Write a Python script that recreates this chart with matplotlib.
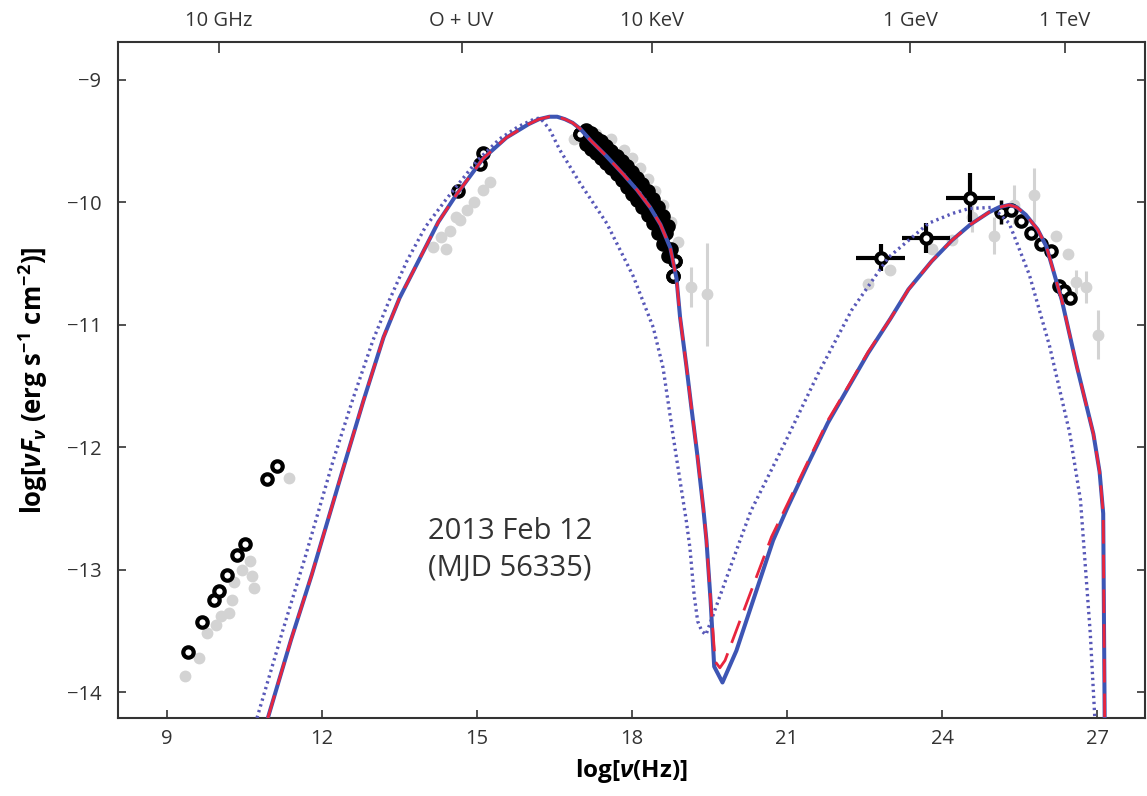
import matplotlib
matplotlib.use('Agg')
import matplotlib.pyplot as plt

plt.rcParams['font.family'] = ['Open Sans', 'DejaVu Sans']
plt.rcParams['mathtext.fontset'] = 'custom'
plt.rcParams['mathtext.rm'] = 'Open Sans:bold'
plt.rcParams['mathtext.it'] = 'Open Sans:italic:bold'
plt.rcParams['mathtext.bf'] = 'Open Sans:bold'

# model curves (log nu, log nuFnu)
solid_x = [10.95, 11.4, 11.8, 12.41, 12.8, 13.19, 13.5, 13.9, 14.25, 14.61, 15.12, 15.57, 16.0,
           16.2, 16.4, 16.55, 16.7, 16.85, 17.0, 17.19, 17.5, 17.83, 18.1, 18.35, 18.55, 18.74,
           18.86, 18.93, 19.05, 19.15, 19.26, 19.38, 19.44, 19.52, 19.59, 19.75, 20.02, 20.73,
           21.0, 21.4, 21.79, 22.2, 22.57, 23.0, 23.35, 23.8, 24.19, 24.55, 24.91, 25.1, 25.3,
           25.45, 25.62, 25.85, 26.02, 26.32, 26.61, 26.93, 27.05, 27.12, 27.15]
solid_y = [-14.21, -13.57, -13.04, -12.17, -11.62, -11.1, -10.78, -10.45, -10.16, -9.93, -9.64,
           -9.47, -9.36, -9.32, -9.3, -9.3, -9.32, -9.35, -9.4, -9.49, -9.62, -9.77, -9.9,
           -10.04, -10.18, -10.37, -10.62, -10.94, -11.33, -11.68, -12.05, -12.5, -12.76,
           -13.25, -13.79, -13.92, -13.66, -12.76, -12.5, -12.14, -11.8, -11.5, -11.23, -10.95,
           -10.71, -10.48, -10.31, -10.18, -10.08, -10.04, -10.02, -10.04, -10.1, -10.22,
           -10.36, -10.8, -11.34, -11.89, -12.2, -12.54, -14.3]

dash_x = [10.95, 11.4, 11.8, 12.41, 12.8, 13.19, 13.5, 13.9, 14.25, 14.61, 15.12, 15.57, 16.0,
          16.2, 16.4, 16.55, 16.7, 16.85, 17.0, 17.19, 17.5, 17.83, 18.1, 18.35, 18.55, 18.74,
          18.86, 18.93, 19.05, 19.15, 19.26, 19.38, 19.44, 19.52, 19.61, 19.7, 19.8, 20.7,
          21.0, 21.4, 21.79, 22.2, 22.57, 23.0, 23.35, 23.8, 24.19, 24.55, 24.91, 25.1, 25.3,
          25.45, 25.62, 25.85, 26.02, 26.32, 26.61, 26.93, 27.05, 27.12, 27.15]
dash_y = [-14.21, -13.57, -13.04, -12.17, -11.62, -11.1, -10.78, -10.45, -10.16, -9.93, -9.64,
          -9.47, -9.36, -9.32, -9.3, -9.3, -9.32, -9.35, -9.4, -9.49, -9.62, -9.77, -9.9,
          -10.04, -10.18, -10.37, -10.62, -10.94, -11.33, -11.68, -12.05, -12.5, -12.76,
          -13.25, -13.75, -13.8, -13.74, -12.73, -12.47, -12.12, -11.78, -11.49, -11.22,
          -10.95, -10.71, -10.48, -10.31, -10.18, -10.08, -10.04, -10.02, -10.04, -10.1,
          -10.22, -10.36, -10.8, -11.34, -11.89, -12.2, -12.54, -14.3]

dot_x = [10.74, 11.25, 11.67, 12.22, 12.6, 12.99, 13.3, 13.64, 14.0, 14.41, 15.0, 15.44, 15.8,
         16.1, 16.22, 16.4, 16.6, 16.99, 17.51, 18.02, 18.41, 18.6, 18.8, 18.95, 19.05, 19.12,
         19.2, 19.27, 19.35, 19.43, 19.5, 20.09, 20.3, 20.95, 21.6, 22.25, 22.96, 23.74, 24.2,
         24.52, 24.98, 25.3, 25.69, 26.08, 26.47, 26.68, 26.87, 26.96]
dot_y = [-14.21, -13.48, -12.9, -12.1, -11.6, -11.12, -10.8, -10.48, -10.2, -9.97, -9.66,
         -9.48, -9.38, -9.32, -9.31, -9.4, -9.57, -9.84, -10.17, -10.6, -11.02, -11.35,
         -11.92, -12.33, -12.6, -12.82, -13.2, -13.42, -13.5, -13.53, -13.45, -12.76, -12.52,
         -11.97, -11.4, -10.88, -10.45, -10.17, -10.09, -10.05, -10.04, -10.17, -10.59,
         -11.17, -11.88, -12.43, -13.52, -14.23]

# 2013 Feb 12 data (black open circles)
radio_x = [9.41, 9.67, 9.9, 10.01, 10.16, 10.36, 10.51, 10.93, 11.13]
radio_y = [-13.67, -13.43, -13.25, -13.17, -13.04, -12.88, -12.79, -12.26, -12.15]
opt_x = [14.64, 15.06, 15.11]
opt_y = [-9.91, -9.69, -9.6]
xray_x = [17.1, 17.2, 17.3, 17.4, 17.5, 17.6, 17.7, 17.8, 17.9, 18.0, 18.1, 18.2, 18.3,
          18.4, 18.5, 18.6, 18.7, 18.65, 18.75,
          18.7, 18.6, 18.5, 18.4, 18.3, 18.2, 18.1, 18.0, 17.9, 17.8, 17.7, 17.6, 17.5,
          17.4, 17.3, 17.2, 17.1, 17.0, 18.83, 18.8]
xray_y = [-9.52, -9.56, -9.6, -9.64, -9.68, -9.72, -9.77, -9.82, -9.87, -9.93, -9.98,
          -10.04, -10.1, -10.17, -10.25, -10.34, -10.44, -10.25, -10.38,
          -10.19, -10.11, -10.04, -9.97, -9.91, -9.85, -9.8, -9.75, -9.7, -9.66,
          -9.62, -9.58, -9.54, -9.5, -9.47, -9.43, -9.41, -9.44, -10.48, -10.6]

gam_x = [22.81, 23.69, 24.55]
gam_y = [-10.45, -10.29, -9.96]
gam_xerr = [0.48, 0.47, 0.47]
gam_yerr = [0.11, 0.12, 0.2]
vhe_x = [25.14, 25.33, 25.53, 25.72, 25.92, 26.11, 26.27, 26.37, 26.47]
vhe_y = [-10.08, -10.06, -10.15, -10.25, -10.34, -10.4, -10.68, -10.72, -10.78]
vhe_yerr = [0.1, 0.03, 0.03, 0.03, 0.03, 0.03, 0.05, 0.05, 0.05]

# other epochs (grey)
grey_x = [9.35, 9.62, 9.78, 9.95, 10.05, 10.2, 10.25, 10.3, 10.45, 10.6, 10.65, 10.68, 11.35,
          14.15, 14.3, 14.48, 14.6, 14.67, 14.81, 14.95, 15.12, 15.25, 14.4,
          16.88, 17.3, 17.6, 17.85, 18.0, 18.15, 18.3, 18.45, 18.6, 18.75, 18.88,
          22.57, 23.0, 23.8, 24.2, 26.2, 26.44]
grey_y = [-13.87, -13.72, -13.52, -13.45, -13.38, -13.35, -13.25, -13.1, -13.0, -12.93, -13.05,
          -13.15, -12.25,
          -10.36, -10.28, -10.23, -10.12, -10.14, -10.06, -10.0, -9.9, -9.83, -10.38,
          -9.48, -9.44, -9.48, -9.57, -9.64, -9.72, -9.81, -9.91, -10.02, -10.16, -10.32,
          -10.67, -10.55, -10.38, -10.31, -10.27, -10.42]
grey_err_x = [19.15, 19.45, 24.58, 25.0, 25.39, 25.78, 26.6, 26.79, 27.02]
grey_err_y = [-10.69, -10.75, -10.12, -10.27, -10.02, -9.94, -10.65, -10.69, -11.08]
grey_err_yerr = [0.16, 0.42, 0.12, 0.15, 0.16, 0.22, 0.1, 0.13, 0.2]

top_ticks = [10, 14.7, 18.38, 23.38, 26.38]
top_labels = ['10 GHz', 'O + UV', '10 KeV', '1 GeV', '1 TeV']

fig = plt.figure(figsize=(11.47, 7.96), dpi=100)
ax = fig.add_axes([0.1029, 0.098, 0.8954, 0.8492])

grey = '#d3d3d3'
ax.plot(grey_x, grey_y, 'o', ms=8.5, color=grey, mec='none', zorder=1)
ax.errorbar(grey_err_x, grey_err_y, yerr=grey_err_yerr, fmt='o', ms=8.5, color=grey,
            mec='none', elinewidth=2.2, capsize=0, zorder=1)

ring = dict(ms=7.5, mfc='white', mec='black', mew=3.0, ls='none', marker='o', zorder=3)
ax.plot(radio_x, radio_y, **ring)
ax.plot(opt_x, opt_y, **ring)
# x-ray points overlap into a solid band; only the last ones show their centres
ax.plot(xray_x, xray_y, **ring)
ax.plot(xray_x[:-3], xray_y[:-3], 'o', ms=9, color='black', mec='none', zorder=3)
ax.plot(xray_x[-3:], xray_y[-3:], **ring)
ax.errorbar(vhe_x, vhe_y, yerr=vhe_yerr, ecolor='black', elinewidth=2.5, capsize=0,
            fmt='none', zorder=3)
ax.plot(vhe_x, vhe_y, **ring)
ax.errorbar(gam_x, gam_y, xerr=gam_xerr, yerr=gam_yerr, ecolor='black', elinewidth=3.0,
            capsize=0, fmt='none', zorder=3)
ax.plot(gam_x, gam_y, **ring)

ax.plot(dot_x, dot_y, color='#5858b8', lw=2.4, ls=(0, (0.7, 1.1)), zorder=4)
ax.plot(solid_x, solid_y, color='#3d55b4', lw=2.9, zorder=5)
ax.plot(dash_x, dash_y, color='#e8253e', lw=2.0, ls=(0, (8.5, 4)), zorder=6)

ax.text(15.64, -12.84, '2013 Feb 12\n(MJD 56335)', ha='center', va='center',
        fontsize=21, color='#333333', linespacing=1.35)

ax.set_xlim(8.05, 27.93)
ax.set_ylim(-14.21, -8.69)
ax.set_xticks([9, 12, 15, 18, 21, 24, 27])
ax.set_yticks([-9, -10, -11, -12, -13, -14])
ax.tick_params(direction='in', length=6, width=1.2, colors='#333333', labelsize=14.5,
               right=True, top=False, pad=8)
ax.tick_params(axis='y', pad=12)
for s in ax.spines.values():
    s.set_color('#333333')
    s.set_linewidth(1.5)

ax.set_xlabel(r'log[$\nu$(Hz)]', fontsize=17.5, fontweight='bold', labelpad=6)
ax.set_ylabel(r'log[$\nu F_\nu$ (erg s$^{-1}$ cm$^{-2}$)]', fontsize=18.5, fontweight='bold',
              labelpad=12)

top = ax.twiny()
top.set_xlim(ax.get_xlim())
top.set_xticks(top_ticks)
top.set_xticklabels(top_labels)
top.tick_params(direction='in', length=8, width=1.2, colors='#333333', labelsize=14.5, pad=8)
for s in top.spines.values():
    s.set_visible(False)

fig.savefig('out.png', dpi=100)
